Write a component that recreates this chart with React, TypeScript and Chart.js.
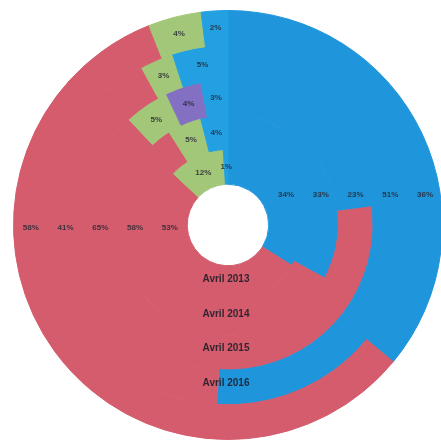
import React, { useEffect, useRef } from "react";
import { Chart, registerables } from "chart.js";

Chart.register(...registerables);

// Values per ring, listed from the innermost ring (index 0) to the outermost ring (index 4)
const ringNames = ["Avril 2013", "Avril 2014", "Avril 2015", "Avril 2016", ""];
const categories = ["Bleu", "Rouge", "Vert", "Violet", "Turquoise"];
const blueValues = [34, 33, 23, 51, 36];
const redValues = [53, 58, 65, 41, 58];
const greenValues = [12, 5, 5, 3, 4];
const purpleValues = [0, 0, 4, 0, 0];
const aquaValues = [1, 4, 3, 5, 2];

const colors = ["#1F95DB", "#D45C6D", "#A2C779", "#8470C2", "#22A0E2"];

const labelPlugin = {
  id: "ringLabels",
  afterDatasetsDraw(chart: any) {
    const ctx = chart.ctx;
    const n = chart.data.datasets.length;
    ctx.save();
    ctx.textAlign = "center";
    ctx.textBaseline = "middle";
    for (let di = 0; di < n; di++) {
      const meta = chart.getDatasetMeta(di);
      const ring = n - 1 - di;
      const data = chart.data.datasets[di].data as number[];
      meta.data.forEach((arc: any, j: number) => {
        const v = data[j];
        if (!v) return;
        const rm = (arc.innerRadius + arc.outerRadius) / 2;
        let x: number, y: number;
        if (j === 0) {
          x = arc.x + rm;
          y = arc.y - 30;
        } else if (j === 1) {
          x = arc.x - rm;
          y = arc.y + 3;
        } else {
          const p = arc.tooltipPosition();
          x = p.x;
          y = p.y;
        }
        ctx.font = "bold 8px 'Liberation Sans', sans-serif";
        ctx.fillStyle = "rgba(40,40,50,0.85)";
        ctx.fillText(v + "%", x, y);
      });
      const name = ringNames[ring];
      if (name && meta.data.length) {
        const a: any = meta.data[0];
        const rm = (a.innerRadius + a.outerRadius) / 2;
        ctx.font = "bold 10px 'Liberation Sans', sans-serif";
        ctx.fillStyle = "rgba(30,30,40,0.9)";
        ctx.fillText(name, a.x - 2, a.y + rm - 4);
      }
    }
    ctx.restore();
  },
};

export default function App() {
  const ref = useRef<HTMLCanvasElement>(null);
  useEffect(() => {
    if (!ref.current) return;
    const rings = [0, 1, 2, 3, 4];
    const datasets = rings
      .slice()
      .reverse()
      .map((r) => ({
        label: ringNames[r] || "Ring " + (r + 1),
        data: [blueValues[r], redValues[r], greenValues[r], purpleValues[r], aquaValues[r]],
        backgroundColor: colors,
        borderColor: colors,
        borderWidth: 1,
      }));
    const chart = new Chart(ref.current, {
      type: "doughnut",
      data: { labels: categories, datasets },
      options: {
        responsive: false,
        maintainAspectRatio: false,
        animation: false,
        cutout: "19%",
        layout: { padding: 0 },
        plugins: { legend: { display: false }, tooltip: { enabled: false } },
      },
      plugins: [labelPlugin],
    });
    return () => chart.destroy();
  }, []);
  return (
    <div style={{ position: "fixed", left: 0, top: 0, width: 441, height: 444, overflow: "hidden", background: "#fff" }}>
      <canvas ref={ref} width={430} height={430} style={{ position: "absolute", left: 13, top: 10, width: 430, height: 430 }} />
    </div>
  );
}
